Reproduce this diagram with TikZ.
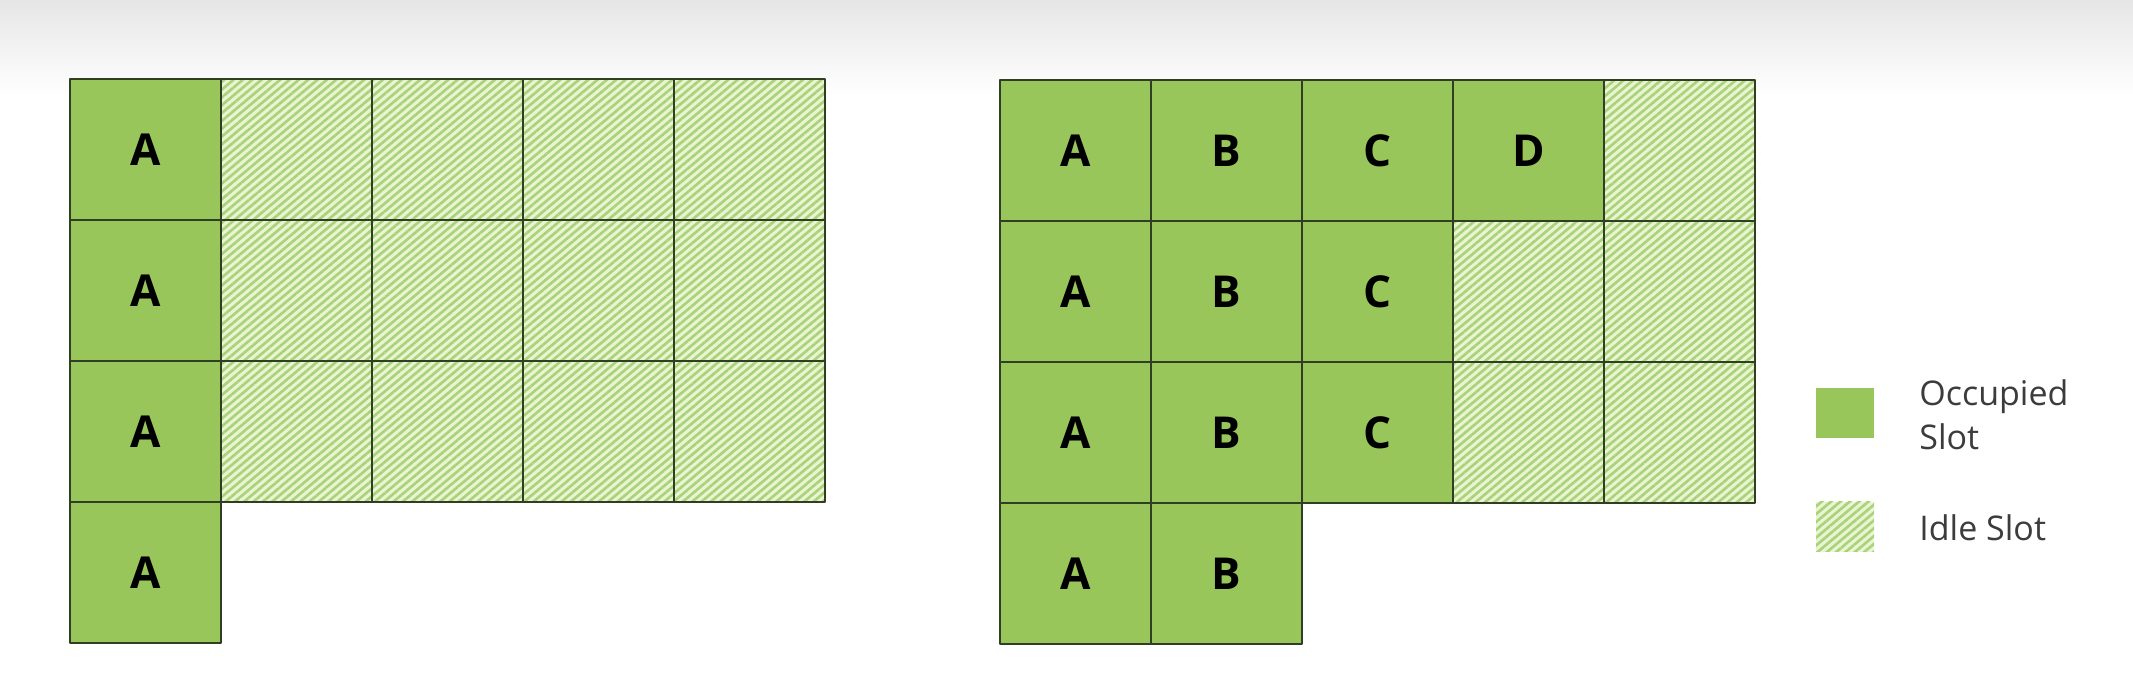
\documentclass[tikz,border=0pt]{standalone}
\usepackage{fontspec}
\setmainfont{Open Sans}
\usetikzlibrary{patterns.meta}
\definecolor{slotgreen}{RGB}{153,198,90}
\definecolor{idlelight}{RGB}{232,244,210}
\definecolor{idlestripe}{RGB}{170,210,120}
\definecolor{gridline}{RGB}{48,62,36}
\definecolor{legendtext}{RGB}{60,60,60}
\tikzset{
  occupied/.style={fill=slotgreen},
  idle/.style={fill=idlelight, postaction={pattern={Lines[angle=40,distance=3pt,line width=1.3pt]}, pattern color=idlestripe}},
  cellline/.style={draw=gridline, line width=1.3pt},
  slotlabel/.style={font=\fontsize{22}{26}\selectfont\bfseries, text=black},
  legendlabel/.style={font=\fontsize{17}{22}\selectfont, text=legendtext, align=left, anchor=west, inner sep=0pt},
}
\begin{document}
\begin{tikzpicture}[x=0.5pt,y=-0.5pt, line join=round]
\def \cw{151}
\def \ch{141}
\useasboundingbox (0,0) rectangle (2133,683);
\fill[white] (0,0) rectangle (2133,683);
\shade[top color={rgb,255:red,230;green,230;blue,230}, bottom color=white] (0,0) rectangle (2133,95);
% left grid: one job, many idle slots
\def \lx{70}
\def \ly{79}
\foreach \c in {1,...,4}\foreach \r in {0,1,2}
  \path[idle] (\lx+\c*\cw,\ly+\r*\ch) rectangle ++(\cw,\ch);
\foreach \c in {1,...,4}\foreach \r in {0,1,2}
  \path[cellline] (\lx+\c*\cw,\ly+\r*\ch) rectangle ++(\cw,\ch);
\foreach \r in {0,...,3} {
  \path[occupied,cellline] (\lx,\ly+\r*\ch) rectangle ++(\cw,\ch);
  \node[slotlabel] (lA\r) at (\lx+0.5*\cw,\ly+\r*\ch+0.5*\ch) {A};
}
% right grid: jobs packed together
\def \rx{1000}
\def \ry{80}
\foreach \c/\r in {4/0,3/1,4/1,3/2,4/2}
  \path[idle] (\rx+\c*\cw,\ry+\r*\ch) rectangle ++(\cw,\ch);
\foreach \c/\r in {4/0,3/1,4/1,3/2,4/2}
  \path[cellline] (\rx+\c*\cw,\ry+\r*\ch) rectangle ++(\cw,\ch);
\foreach \c/\job/\n in {0/A/4,1/B/4,2/C/3,3/D/1}
  \foreach \r in {1,...,\n} {
    \path[occupied,cellline] (\rx+\c*\cw,\ry+\r*\ch-\ch) rectangle ++(\cw,\ch);
    \node[slotlabel] (r\job\r) at (\rx+\c*\cw+0.5*\cw,\ry+\r*\ch-0.5*\ch) {\job};
  }
% legend
\fill[occupied] (1816,388) rectangle (1874,438);
\path[idle] (1816,502) rectangle (1874,552);
\node[legendlabel] (occ) at (1919,415) {Occupied\\Slot};
\node[legendlabel] (idl) at (1919,528) {Idle Slot};
\end{tikzpicture}
\end{document}
